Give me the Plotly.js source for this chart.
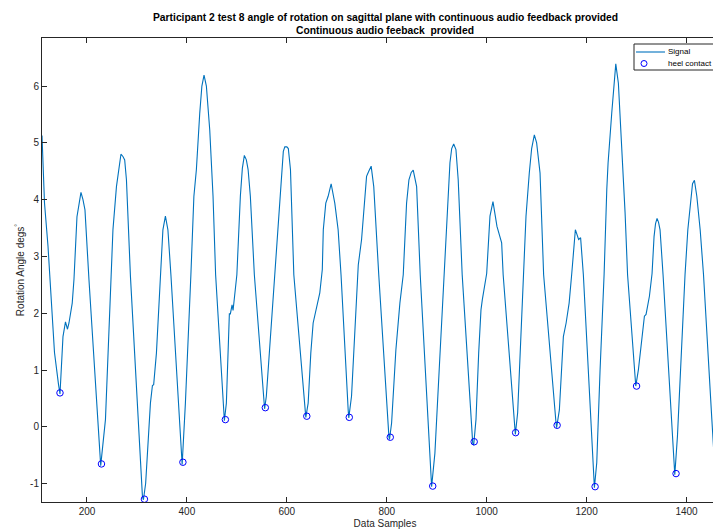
<!DOCTYPE html>
<html>
<head>
<meta charset="utf-8">
<script src="https://cdn.plot.ly/plotly-3.0.1.min.js"></script>
<style>
html, body { margin: 0; padding: 0; overflow: hidden; background: #fff; width: 713px; height: 529px; }
#chart { width: 745px; height: 529px; }
</style>
</head>
<body>
<div id="chart"></div>
<script>
var signalX = [110,115,122,125,135,143,146,152,157,161,164,170.5,174,180,184,188,192,196,204,227.5,237,247,252,259,264,268,272,275.5,279,287,311,313,317.5,323,327,331,333.5,339,344,348,352,357,362,368,389,390.5,397,403,408,414,419,425.7,430,434.3,439,445.7,452.3,457.5,472.4,475,479,483,485,487,490.4,492.4,496,500,507,511,515,519,522.5,527,535,554,555.5,559,567,576.5,582.6,589.3,593,596,600,603,607.3,614,629.4,638,642.7,648,652.7,658,662.7,666,671,673,678,682.7,688.7,696,702.7,708.5,722.8,724,729.5,738,743,749.6,755,759.6,764,768.8,774,779.6,784,804.3,805.5,809.7,818.3,826.3,833,839.7,844.4,849,853,859.8,867,889.8,896.4,905,915,920,926.5,930,934,938.5,943,951,972,974,978.6,984,988.6,991.3,995.3,1000,1006.6,1012.6,1020.6,1026,1030,1033,1056,1057.4,1062,1066.7,1073.3,1078.7,1085.3,1090,1095.4,1100,1106.8,1114,1138.8,1140,1145.5,1153.5,1159,1165,1170.3,1174,1177.5,1181,1184,1188,1190,1193.5,1215.6,1220.3,1227,1235,1240.4,1243,1250.3,1255,1258.4,1263.6,1270.4,1277,1282,1290.4,1298.4,1303.7,1310.5,1315.7,1319,1325.7,1331,1335,1338,1341,1344,1347,1353,1375.2,1376.5,1381.8,1390.6,1397,1402.6,1408.6,1412,1415.8,1420.6,1427.3,1434,1450.7,1455,1462];
var signalY = [5.13,3.94,3.18,2.77,1.31,0.75,0.58,1.59,1.85,1.72,1.83,2.18,2.6,3.70,3.96,4.13,4.0,3.82,2.59,-0.68,0.13,2.59,3.47,4.23,4.55,4.80,4.76,4.70,4.35,2.65,-1.22,-1.28,-0.99,-0.05,0.42,0.73,0.745,1.30,2.18,2.77,3.47,3.71,3.47,2.68,-0.575,-0.66,0.42,1.59,2.68,4.06,4.53,5.52,6.0,6.19,6.0,5.23,4.06,2.68,0.42,0.11,0.42,1.59,1.99,1.99,2.15,2.05,2.30,2.68,4.06,4.55,4.78,4.70,4.53,4.06,2.68,0.36,0.32,0.54,1.59,2.68,3.47,4.53,4.85,4.93,4.93,4.90,4.53,2.68,1.01,0.17,0.42,1.30,1.83,2.06,2.21,2.36,2.77,3.47,3.94,4.06,4.28,3.94,3.47,2.68,0.30,0.16,0.54,1.89,2.85,3.30,3.88,4.41,4.50,4.59,4.23,3.47,2.68,-0.165,-0.22,0.07,1.36,2.18,2.68,3.94,4.35,4.48,4.52,4.23,2.68,-1.05,-0.46,1.01,2.68,3.71,4.65,4.90,4.98,4.88,4.35,2.68,-0.28,-0.32,0.13,1.30,2.06,2.24,2.42,2.70,3.71,3.965,3.53,3.38,3.24,2.68,-0.05,-0.13,0.25,1.30,2.68,3.71,4.47,4.90,5.14,5.0,4.47,2.68,0.07,-0.01,0.30,1.59,1.83,2.18,2.70,3.2,3.47,3.38,3.30,3.33,3.1,2.68,-1.07,-0.63,1.01,2.68,4.18,4.65,5.52,6.1,6.39,6.05,4.94,3.77,2.68,1.59,0.72,1.01,1.59,1.95,1.98,2.30,2.70,3.35,3.58,3.67,3.60,3.47,2.68,-0.75,-0.84,-0.165,1.59,2.68,3.47,4.06,4.28,4.34,4.06,3.47,2.68,0.13,-0.5,-1.0];
var heelX = [146,229,315,392,477,557,640,725,807,892,975,1058,1141,1217,1300,1379];
var heelY = [0.60,-0.65,-1.27,-0.62,0.13,0.34,0.19,0.17,-0.18,-1.04,-0.26,-0.10,0.03,-1.05,0.72,-0.82];
var xTicks = [200,400,600,800,1000,1200,1400];
var yTicks = [-1,0,1,2,3,4,5,6];
var titleLine1 = 'Participant 2 test 8 angle of rotation on sagittal plane with continuous audio feedback provided';
var titleLine2 = 'Continuous audio feeback  provided';
var legendNames = ['Signal', 'heel contact'];

var font = 'Liberation Sans, Arial, Helvetica, sans-serif';
var axisColor = '#262626';
var lineColor = '#0072BD';
var markerColor = '#0000FF';

// plot-area pixel geometry (for placing the hand-built legend and title)
var L = 42, T = 38, PW = 686, PH = 464;
function px(x) { return (x - L) / PW; }
function py(y) { return (T + PH - y) / PH; }

var traces = [
  {x: signalX, y: signalY, type: 'scatter', mode: 'lines', name: legendNames[0],
   line: {color: lineColor, width: 1.1}, hoverinfo: 'skip'},
  {x: heelX, y: heelY, type: 'scatter', mode: 'markers', name: legendNames[1],
   marker: {symbol: 'circle-open', size: 6.5, color: markerColor, line: {width: 1, color: markerColor}}, hoverinfo: 'skip'}
];

var shapes = [
  {type: 'rect', xref: 'paper', yref: 'paper', x0: px(634), x1: px(740), y0: py(70), y1: py(44),
   fillcolor: '#fff', line: {color: axisColor, width: 1}, layer: 'above'},
  {type: 'line', xref: 'paper', yref: 'paper', x0: px(636), x1: px(665), y0: py(52), y1: py(52),
   line: {color: lineColor, width: 1.1}, layer: 'above'},
  {type: 'circle', xref: 'paper', yref: 'paper', xsizemode: 'pixel', ysizemode: 'pixel',
   xanchor: px(644), yanchor: py(63.5), x0: -3, x1: 3, y0: -3, y1: 3,
   line: {color: markerColor, width: 1}, layer: 'above'}
];

var titleFont = {family: font, size: 10.3, color: '#000'};
var annotations = [
  {text: '<b>' + titleLine1 + '</b>', xref: 'paper', yref: 'paper', x: 0.5, y: py(18), xanchor: 'center', yanchor: 'middle',
   showarrow: false, font: titleFont, borderpad: 0},
  {text: '<b>' + titleLine2.replace(/  /g, ' &nbsp;') + '</b>', xref: 'paper', yref: 'paper', x: 0.5, y: py(31), xanchor: 'center', yanchor: 'middle',
   showarrow: false, font: titleFont, borderpad: 0},
  {text: legendNames[0], xref: 'paper', yref: 'paper', x: px(667), y: py(51.5), xanchor: 'left', yanchor: 'middle',
   showarrow: false, font: {family: font, size: 8, color: '#000'}, borderpad: 0},
  {text: legendNames[1], xref: 'paper', yref: 'paper', x: px(667), y: py(63.5), xanchor: 'left', yanchor: 'middle',
   showarrow: false, font: {family: font, size: 8, color: '#000'}, borderpad: 0}
];

var layout = {
  width: 745, height: 529,
  margin: {l: 42, r: 17, t: 38, b: 27, pad: 0},
  paper_bgcolor: '#fff', plot_bgcolor: '#fff',
  font: {family: font, size: 10, color: axisColor},
  showlegend: false,
  shapes: shapes,
  annotations: annotations,
  xaxis: {range: [110, 1483], tickmode: 'array', tickvals: xTicks, ticktext: xTicks.map(String),
          ticks: 'inside', ticklen: 5, tickwidth: 1, tickcolor: axisColor,
          showline: true, linecolor: axisColor, linewidth: 1, mirror: 'ticks',
          showgrid: false, zeroline: false, tickfont: {size: 10, color: axisColor},
          title: {text: 'Data Samples', font: {size: 10, color: axisColor}, standoff: 5}},
  yaxis: {range: [-1.32, 6.845], tickmode: 'array', tickvals: yTicks, ticktext: yTicks.map(String),
          ticks: 'inside', ticklen: 5, tickwidth: 1, tickcolor: axisColor,
          showline: true, linecolor: axisColor, linewidth: 1, mirror: 'ticks',
          showgrid: false, zeroline: false, tickfont: {size: 10, color: axisColor},
          title: {text: 'Rotation Angle degs<sup>°</sup>', font: {size: 10, color: axisColor}, standoff: 3}}
};

Plotly.newPlot('chart', traces, layout, {displayModeBar: false, staticPlot: true});
</script>
</body>
</html>
